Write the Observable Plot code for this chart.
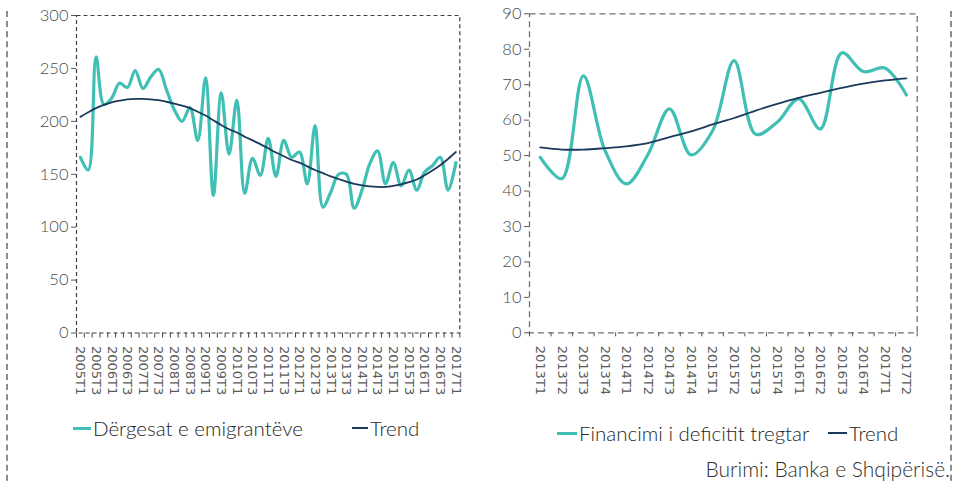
<!DOCTYPE html>
<html>
<head>
<meta charset="utf-8">
<script src="https://cdn.jsdelivr.net/npm/d3@7"></script>
<script src="https://cdn.jsdelivr.net/npm/@observablehq/plot@0.6"></script>
<style>
html,body{margin:0;padding:0;background:#fff;}
#wrap{position:relative;width:953px;height:482px;overflow:hidden;font-family:Lato,"Open Sans",sans-serif;font-weight:300;background:#fff;}
#c1,#c2{position:absolute;top:0;}
#c1{left:0;} #c2{left:480px;}
#c1 svg,#c2 svg{background:transparent;color:#595959;overflow:visible;}
svg g[aria-label^="y-axis"] text{font-family:Lato,sans-serif;font-weight:300;font-size:16.5px;fill:#4a4a4a;}
svg g[aria-label^="x-axis"] text{font-family:"DejaVu Sans",sans-serif;font-weight:400;font-size:13px;fill:#5a5a5a;}
#outer{position:absolute;left:6px;top:11px;width:942px;height:490px;border-left:2px dashed #8c8c8c;border-right:2px dashed #8c8c8c;pointer-events:none;}
.lg{position:absolute;display:flex;align-items:center;height:24px;font-size:20.5px;font-weight:300;color:#262626;white-space:nowrap;}
.sw{display:inline-block;margin-right:2px;}
#src{position:absolute;right:3px;top:456px;font-size:21px;font-weight:300;color:#303030;white-space:nowrap;}
</style>
</head>
<body>
<div id="wrap">
  <div id="c1"></div>
  <div id="c2"></div>
  <div class="lg" style="left:73px;top:416px;"><span class="sw" style="width:18px;height:3px;background:#40BFB4"></span><span id="lgL1"></span></div>
  <div class="lg" style="left:352px;top:416px;"><span class="sw" style="width:16px;height:2px;background:#1B3A5C"></span><span id="lgL2"></span></div>
  <div class="lg" style="left:557px;top:421px;"><span class="sw" style="width:20px;height:3px;background:#40BFB4"></span><span id="lgR1"></span></div>
  <div class="lg" style="left:828px;top:421px;"><span class="sw" style="width:19px;height:2px;background:#1B3A5C"></span><span id="lgR2"></span></div>
  <div id="src"></div>
  <div id="outer"></div>
</div>
<script>
// ---------- Data ----------
const quartersL = ["2005T1","2005T2","2005T3","2005T4","2006T1","2006T2","2006T3","2006T4",
  "2007T1","2007T2","2007T3","2007T4","2008T1","2008T2","2008T3","2008T4",
  "2009T1","2009T2","2009T3","2009T4","2010T1","2010T2","2010T3","2010T4",
  "2011T1","2011T2","2011T3","2011T4","2012T1","2012T2","2012T3","2012T4",
  "2013T1","2013T2","2013T3","2013T4","2014T1","2014T2","2014T3","2014T4",
  "2015T1","2015T2","2015T3","2015T4","2016T1","2016T2","2016T3","2016T4","2017T1"];
const remittances = [166,154,261,216,222,236,232,248,231,242,249,230,211,200,213,182,
  241,130,227,169,220,132,165,149,184,148,182,166,171,141,196,119,
  133,150,150,118,135,160,172,141,161,139,154,135,152,158,166,135,161];
const trendL = [204.2,208.5,212.5,215.5,218,219.5,220.7,221.2,221.2,220.8,220,218.5,216.8,214.8,212.5,209,
  205.5,201,196.5,192.5,189.5,185.5,182,178.5,174.5,170.5,167,163.5,161,157.5,154,151,
  148,145.5,143,141,139.5,138.5,138,138,139,140.5,142.5,145,149,153.5,158.5,164.5,171];

const quartersR = ["2013T1","2013T2","2013T3","2013T4","2014T1","2014T2","2014T3","2014T4",
  "2015T1","2015T2","2015T3","2015T4","2016T1","2016T2","2016T3","2016T4","2017T1","2017T2"];
const financing = [49.5,43.5,72.5,51.5,42,50.3,63.2,50.2,57,76.8,56,59.4,66,57.5,79,73.7,74.7,67.1];
const trendR = [52.3,51.7,51.7,52.1,52.6,53.5,55.2,56.8,58.8,60.6,62.7,64.6,66.3,67.7,69.1,70.3,71.2,71.8];

const yTicksL = [0,50,100,150,200,250,300];
const yTicksR = [0,10,20,30,40,50,60,70,80,90];

const seriesNameL = "Dërgesat e emigrantëve";
const seriesNameR = "Financimi i deficitit tregtar";
const trendName = "Trend";
const sourceText = "Burimi: Banka e Shqipërisë.";

const TEAL = "#40BFB4";
const NAVY = "#1B3A5C";

// ---------- Build ----------
const dataL = quartersL.map((q,i)=>({i, q, v: remittances[i], t: trendL[i]}));
const dataR = quartersR.map((q,i)=>({i, q, v: financing[i], t: trendR[i]}));
const labelIdxL = quartersL.map((q,i)=>i).filter(i=>i%2===0);
const labelIdxR = quartersR.map((q,i)=>i);
const boundsL = d3.range(quartersL.length+1).map(k=>k-0.5);
const boundsR = d3.range(quartersR.length+1).map(k=>k-0.5);

const styleCommon = {background:"transparent", color:"#595959", fontFamily:"Lato, sans-serif", fontSize:"16px", overflow:"visible"};

const left = Plot.plot({
  width:480, height:400,
  marginLeft:76, marginRight:20.7, marginTop:15, marginBottom:67.5,
  style: styleCommon,
  x:{type:"linear", domain:[-0.5, quartersL.length-0.5], ticks:labelIdxL, tickFormat:i=>quartersL[i], tickRotate:90, tickSize:0, tickPadding:13, label:null},
  y:{domain:[0,300], ticks:yTicksL, tickSize:5, tickPadding:3, label:null},
  marks:[
    Plot.frame({stroke:"#404040", strokeDasharray:"4,3", strokeWidth:1.2}),
    Plot.ruleX(boundsL, {x:d=>d, y1:0, y2:0, insetBottom:-5, stroke:"#404040", strokeWidth:1}),
    Plot.line(dataL, {x:"i", y:"v", stroke:TEAL, strokeWidth:3.2, curve:"catmull-rom"}),
    Plot.line(dataL, {x:"i", y:"t", stroke:NAVY, strokeWidth:1.8, curve:"catmull-rom"})
  ]
});
document.getElementById("c1").appendChild(left);

const right = Plot.plot({
  width:473, height:400,
  marginLeft:49, marginRight:36.3, marginTop:13.3, marginBottom:67.7,
  style: styleCommon,
  x:{type:"linear", domain:[-0.5, quartersR.length-0.5], ticks:labelIdxR, tickFormat:i=>quartersR[i], tickRotate:90, tickSize:0, tickPadding:13, label:null},
  y:{domain:[0,90], ticks:yTicksR, tickSize:5, tickPadding:3, label:null},
  marks:[
    Plot.frame({stroke:"#707070", strokeDasharray:"6,4", strokeWidth:1.3}),
    Plot.ruleX(boundsR, {x:d=>d, y1:0, y2:0, insetBottom:-4, stroke:"#505050", strokeWidth:1}),
    Plot.line(dataR, {x:"i", y:"v", stroke:TEAL, strokeWidth:3.2, curve:"catmull-rom"}),
    Plot.line(dataR, {x:"i", y:"t", stroke:NAVY, strokeWidth:1.8, curve:"catmull-rom"})
  ]
});
document.getElementById("c2").appendChild(right);

document.getElementById("lgL1").textContent = seriesNameL;
document.getElementById("lgL2").textContent = trendName;
document.getElementById("lgR1").textContent = seriesNameR;
document.getElementById("lgR2").textContent = trendName;
document.getElementById("src").textContent = sourceText;
</script>
</body>
</html>
